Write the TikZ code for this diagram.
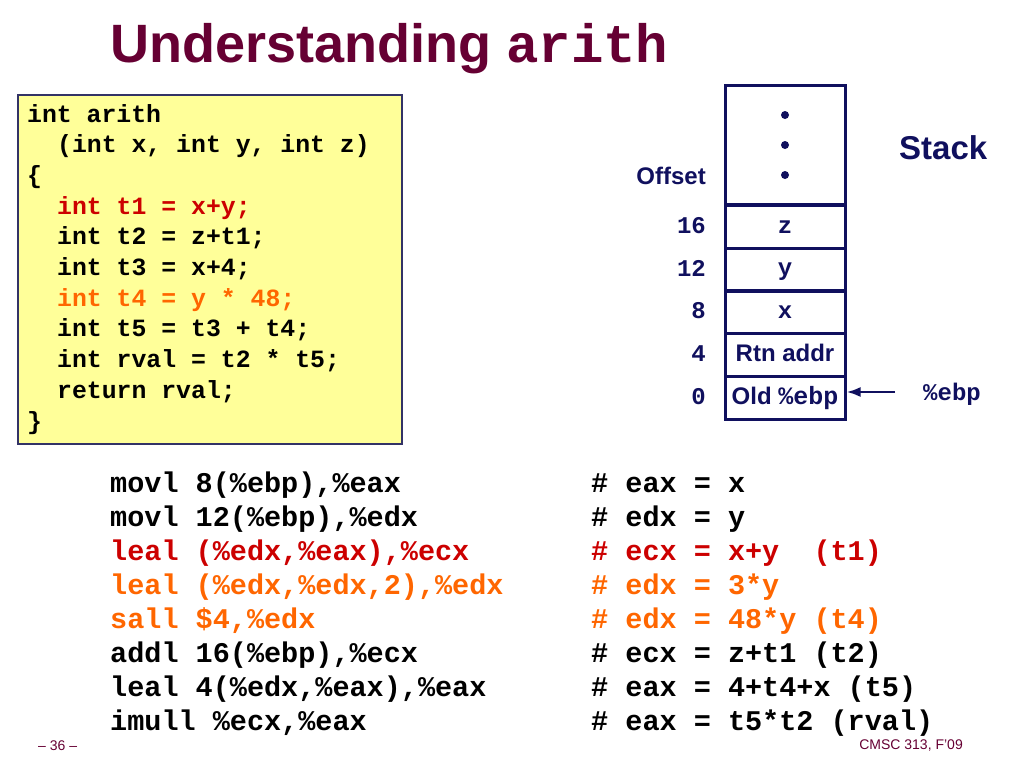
\documentclass[tikz,border=0pt]{standalone}
\usepackage{fontspec}
\setmainfont{Liberation Sans}
\setmonofont{Liberation Mono}
\usepackage{tikz}
\usetikzlibrary{arrows.meta,arrows}

\definecolor{titlered}{HTML}{660033}
\definecolor{codered}{HTML}{CC0000}
\definecolor{codeorange}{HTML}{FF6600}
\definecolor{stackblue}{HTML}{10105E}
\definecolor{notepad}{HTML}{FFFF99}
\definecolor{boxedge}{HTML}{333366}

\begin{document}
\begin{tikzpicture}[x=1pt,y=-1pt]

\tikzset{code/.style = {anchor=base west,inner sep=0pt,font=\fontsize{24.8}{30}\selectfont\ttfamily\bfseries}}
\tikzset{asm/.style = {anchor=base west,inner sep=0pt,font=\fontsize{28.5}{34}\selectfont\ttfamily\bfseries}}
\tikzset{cell/.style = {shape=rectangle,draw=stackblue,line width=3pt,minimum width=120pt,minimum height=43pt,inner sep=0pt,text height=17pt,text depth=5pt,text=stackblue,font=\fontsize{24}{28}\selectfont\bfseries}}
\tikzset{offset/.style = {anchor=east,inner sep=0pt,text=stackblue,font=\fontsize{24}{28}\selectfont\ttfamily\bfseries}}
\tikzset{dot/.style = {shape=circle,fill=stackblue,minimum size=8pt,inner sep=0pt}}
\tikzset{edge/.style = {-{Latex[length=14pt,width=10pt]},draw=stackblue,line width=2.5pt}}

\useasboundingbox (0,0) rectangle (1024,768);

\node[anchor=base west,inner sep=0pt,text=titlered,font=\fontsize{54}{60}\selectfont\bfseries] (title) at (110,63) {Understanding \texttt{arith}};

\node[draw=boxedge,fill=notepad,line width=1.5pt,minimum width=384pt,minimum height=349pt,anchor=north west,inner sep=0pt] (codebox) at (17,94) {};

\node[code] (c1) at (27,122) {int arith};
\node[code] (c2) at (57,152.7) {(int x, int y, int z)};
\node[code] (c3) at (27,183.4) {\{};
\node[code,text=codered] (c4) at (57,214.1) {int t1 = x+y;};
\node[code] (c5) at (57,244.8) {int t2 = z+t1;};
\node[code] (c6) at (57,275.5) {int t3 = x+4;};
\node[code,text=codeorange] (c7) at (57,306.2) {int t4 = y * 48;};
\node[code] (c8) at (57,336.9) {int t5 = t3 + t4;};
\node[code] (c9) at (57,367.6) {int rval = t2 * t5;};
\node[code] (c10) at (57,398.3) {return rval;};
\node[code] (c11) at (27,429) {\}};

\node[cell,minimum height=119pt] (top) at (785,144.5) {};
\node[cell] (z) at (785,227) {\ttfamily z};
\node[cell] (y) at (785,269.5) {\ttfamily y};
\node[cell] (x) at (785,312) {\ttfamily x};
\node[cell] (rtn) at (785,355) {Rtn addr};
\node[cell] (old) at (785,398) {\fontsize{24}{28}\selectfont Old {\fontsize{25}{28}\selectfont\ttfamily\%ebp}};

\node[dot] (d1) at (785,115) {};
\node[dot] (d2) at (785,145) {};
\node[dot] (d3) at (785,175) {};

\node[anchor=base east,inner sep=0pt,text=stackblue,font=\fontsize{24}{28}\selectfont\bfseries] (offsetlbl) at (706,184.5) {Offset};
\node[offset] (o16) at (706,225.5) {16};
\node[offset] (o12) at (706,268) {12};
\node[offset] (o8) at (706,310.5) {8};
\node[offset] (o4) at (706,353.5) {4};
\node[offset] (o0) at (706,396.5) {0};

\node[anchor=base west,inner sep=0pt,text=stackblue,font=\fontsize{33}{38}\selectfont\bfseries] (stacklbl) at (899,159) {Stack};
\node[anchor=base west,inner sep=0pt,text=stackblue,font=\fontsize{24}{28}\selectfont\ttfamily\bfseries] (ebp) at (923,400) {\%ebp};
\coordinate (ebptail) at (895,392);

\draw[edge] (ebptail) to (ebptail -| old.east);

\node[asm] (a1) at (110,492) {movl 8(\%ebp),\%eax};
\node[asm] (a2) at (110,526) {movl 12(\%ebp),\%edx};
\node[asm,text=codered] (a3) at (110,560) {leal (\%edx,\%eax),\%ecx};
\node[asm,text=codeorange] (a4) at (110,594) {leal (\%edx,\%edx,2),\%edx};
\node[asm,text=codeorange] (a5) at (110,628) {sall \$4,\%edx};
\node[asm] (a6) at (110,662) {addl 16(\%ebp),\%ecx};
\node[asm] (a7) at (110,696) {leal 4(\%edx,\%eax),\%eax};
\node[asm] (a8) at (110,730) {imull \%ecx,\%eax};

\node[asm] (n1) at (591,492) {\# eax = x};
\node[asm] (n2) at (591,526) {\# edx = y};
\node[asm,text=codered] (n3) at (591,560) {\# ecx = x+y\ \ (t1)};
\node[asm,text=codeorange] (n4) at (591,594) {\# edx = 3*y};
\node[asm,text=codeorange] (n5) at (591,628) {\# edx = 48*y (t4)};
\node[asm] (n6) at (591,662) {\# ecx = z+t1 (t2)};
\node[asm] (n7) at (591,696) {\# eax = 4+t4+x (t5)};
\node[asm] (n8) at (591,730) {\# eax = t5*t2 (rval)};

\node[anchor=base west,inner sep=0pt,text=titlered,font=\fontsize{14}{16}\selectfont] (pageno) at (38,750) {\textendash\ 36 \textendash};
\node[anchor=base east,inner sep=0pt,text=titlered,font=\fontsize{14}{16}\selectfont] (course) at (963,749) {CMSC 313, F'09};

\end{tikzpicture}
\end{document}
